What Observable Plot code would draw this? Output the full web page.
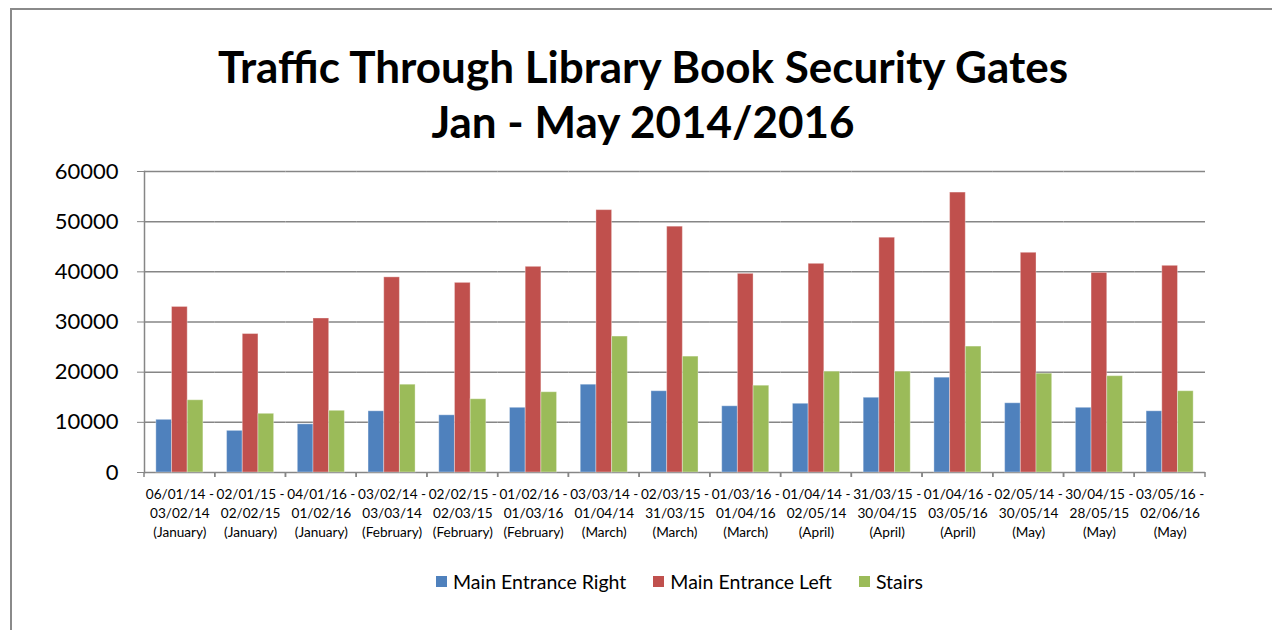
<!DOCTYPE html>
<html>
<head>
<meta charset="utf-8">
<script src="https://cdn.jsdelivr.net/npm/d3@7"></script>
<script src="https://cdn.jsdelivr.net/npm/@observablehq/plot@0.6"></script>
<style>
  html, body { margin: 0; padding: 0; background: #fff; }
  #page { position: relative; width: 1272px; height: 630px; overflow: hidden; font-family: Lato, "Open Sans", sans-serif; }
  #frame { position: absolute; left: 10px; top: 8px; width: 1300px; height: 700px; border-top: 2px solid #8a8a8a; border-left: 2px solid #8a8a8a; }
  .title { position: absolute; left: 0; width: 1286px; text-align: center; font-weight: 700; font-size: 44px; color: #000; line-height: 1; }
  #chart { position: absolute; left: 0; top: 150px; }
  #legend { position: absolute; left: 436px; top: 570px; display: flex; justify-content: flex-start; align-items: center; font-size: 19.5px; color: #000; }
  .item { display: flex; align-items: center; margin-right: 27px; }
  .sw { width: 11px; height: 11px; margin-right: 6px; }
</style>
</head>
<body>
<div id="page">
  <div id="frame"></div>
  <div class="title" style="top:44px">Traffic Through Library Book Security Gates</div>
  <div class="title" style="top:99px">Jan - May 2014/2016</div>
  <div id="chart"></div>
  <div id="legend"></div>
</div>
<script>
const periods = [
  "06/01/14 -\n03/02/14\n(January)",
  "02/01/15 -\n02/02/15\n(January)",
  "04/01/16 -\n01/02/16\n(January)",
  "03/02/14 -\n03/03/14\n(February)",
  "02/02/15 -\n02/03/15\n(February)",
  "01/02/16 -\n01/03/16\n(February)",
  "03/03/14 -\n01/04/14\n(March)",
  "02/03/15 -\n31/03/15\n(March)",
  "01/03/16 -\n01/04/16\n(March)",
  "01/04/14 -\n02/05/14\n(April)",
  "31/03/15 -\n30/04/15\n(April)",
  "01/04/16 -\n03/05/16\n(April)",
  "02/05/14 -\n30/05/14\n(May)",
  "30/04/15 -\n28/05/15\n(May)",
  "03/05/16 -\n02/06/16\n(May)"
];
const seriesNames = ["Main Entrance Right", "Main Entrance Left", "Stairs"];
const seriesColors = ["#4F81BD", "#C0504D", "#9BBB59"];
const mainEntranceRight = [10500, 8300, 9600, 12200, 11400, 12900, 17500, 16200, 13200, 13700, 14900, 18900, 13800, 12900, 12200];
const mainEntranceLeft  = [33000, 27600, 30700, 38900, 37800, 41000, 52300, 49000, 39600, 41600, 46800, 55800, 43800, 39800, 41200];
const stairs            = [14400, 11700, 12300, 17500, 14600, 16000, 27100, 23100, 17300, 20100, 20100, 25100, 19700, 19200, 16200];
const yTicks = [0, 10000, 20000, 30000, 40000, 50000, 60000];

const seriesValues = [mainEntranceRight, mainEntranceLeft, stairs];
const data = [];
periods.forEach((p, i) => {
  seriesNames.forEach((s, j) => data.push({period: p, series: s, value: seriesValues[j][i]}));
});

const gray = "#868686";

// tick marks at the category boundaries (edges of each facet)
const boundaryTicks = (index, scales, values, dimensions) => {
  const g = d3.create("svg:g");
  const y0 = dimensions.height - dimensions.marginBottom;
  for (const x of [dimensions.marginLeft, dimensions.width - dimensions.marginRight]) {
    g.append("line").attr("x1", x).attr("x2", x).attr("y1", y0).attr("y2", y0 + 5)
      .attr("stroke", gray).attr("stroke-width", 1.5);
  }
  return g.node();
};

const plot = Plot.plot({
  width: 1272,
  height: 400,
  marginTop: 21,
  marginBottom: 78,
  marginLeft: 144,
  marginRight: 67,
  style: {fontFamily: "Lato, 'Open Sans', sans-serif", background: "transparent", overflow: "visible"},
  fx: {domain: periods, padding: 0, round: false},
  x: {domain: seriesNames, paddingInner: 0, paddingOuter: 0.755, round: false, axis: null},
  y: {domain: [0, 60000]},
  color: {domain: seriesNames, range: seriesColors},
  marks: [
    Plot.gridY(yTicks, {stroke: gray, strokeOpacity: 1, strokeWidth: 1.5}),
    Plot.barY(data, {fx: "period", x: "series", y: "value", fill: "series", stroke: "#ffffff", strokeOpacity: 0.35, strokeWidth: 1}),
    Plot.frame({anchor: "left", facetAnchor: "left", stroke: gray, strokeWidth: 1.5}),
    Plot.axisY({ticks: yTicks, tickSize: 7, tickPadding: 19, fontSize: 22, stroke: gray, fill: "#000", tickFormat: d => String(d), label: null}),
    Plot.axisFx({anchor: "bottom", tickSize: 0, tickPadding: 13, fontSize: 13.6, fill: "#000", lineHeight: 1.4, label: null}),
    boundaryTicks
  ]
});
document.getElementById("chart").appendChild(plot);

const legend = document.getElementById("legend");
seriesNames.forEach((s, i) => {
  const item = document.createElement("div");
  item.className = "item";
  const sw = document.createElement("div");
  sw.className = "sw";
  sw.style.background = seriesColors[i];
  const t = document.createElement("span");
  t.textContent = s;
  item.appendChild(sw); item.appendChild(t);
  legend.appendChild(item);
});
</script>
</body>
</html>
